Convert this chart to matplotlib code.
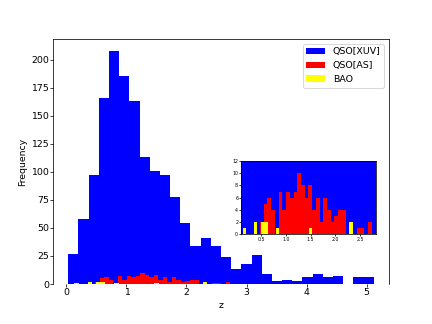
import numpy as np
import matplotlib
matplotlib.use('Agg')
import matplotlib.pyplot as plt

# QSO[XUV]: 30 bins between z=0.03 and z=5.12
xuv_range = (0.03, 5.12)
xuv_counts = [27, 58, 97, 166, 208, 185, 163, 113, 101, 97, 78, 54, 34, 41, 34,
              24, 13, 18, 26, 9, 3, 4, 3, 6, 9, 6, 7, 0, 6, 6]

# QSO[AS]: 30 bins between z=0.48 and z=2.73
as_range = (0.48, 2.73)
as_counts = [2, 5, 6, 4, 0, 7, 4, 7, 6, 7, 10, 8, 6, 8, 4,
             6, 2, 6, 4, 2, 3, 4, 4, 0, 0, 0, 1, 1, 0, 2]

# BAO: 30 bins between z=0.13 and z=2.35
bao_range = (0.13, 2.35)
bao_counts = [1, 0, 0, 2, 0, 2, 2, 0, 0, 1, 0, 0, 0, 0, 0,
              0, 0, 0, 1, 0, 0, 0, 0, 0, 0, 0, 0, 0, 0, 2]

series = [
    (xuv_counts, xuv_range, 'blue', 'QSO[XUV]'),
    (as_counts, as_range, 'red', 'QSO[AS]'),
    (bao_counts, bao_range, 'yellow', 'BAO'),
]


def draw(ax, with_label):
    for counts, rng, color, label in series:
        edges = np.linspace(rng[0], rng[1], len(counts) + 1)
        centers = 0.5 * (edges[:-1] + edges[1:])
        ax.hist(centers, bins=edges, weights=counts, color=color,
                label=label if with_label else None)


W, H = 432, 324
fig = plt.figure(figsize=(6.4, 4.8), dpi=67.5)
ax = fig.add_axes([53 / W, (H - 284) / H, 336 / W, 245 / H])
draw(ax, True)
ax.spines['bottom'].set_visible(False)
ax.tick_params(length=3.2, pad=1.2)
ax.set_xlabel('z')
ax.set_ylabel('Frequency')
ax.legend(loc='upper right')

ins = fig.add_axes([241 / W, (H - 234.3) / H, 135 / W, 73.3 / H])
draw(ins, False)
ins.set_xlim(0.097, 2.817)
ins.set_ylim(0, 12)
ins.set_xticks([0.5, 1.0, 1.5, 2.0, 2.5])
ins.set_yticks([0, 2, 4, 6, 8, 10, 12])
ins.tick_params(labelsize=5, length=2, pad=1)

fig.savefig('out.png', dpi=67.5)
